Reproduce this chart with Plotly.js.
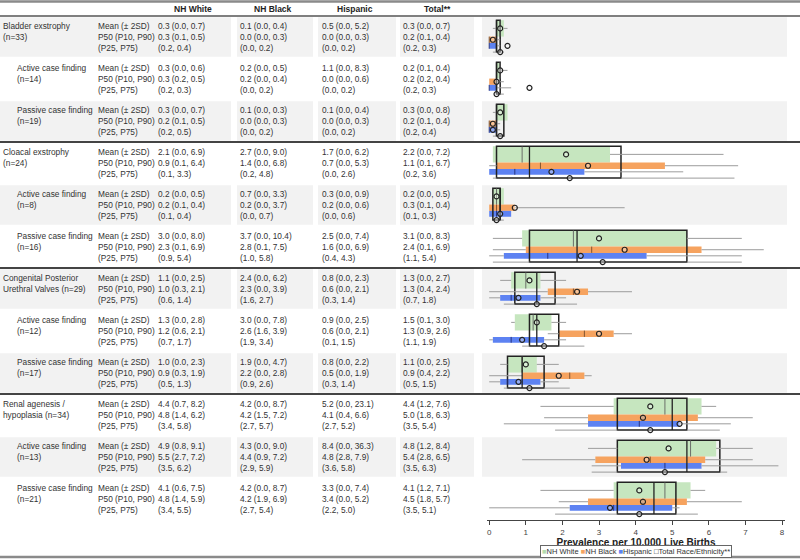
<!DOCTYPE html>
<html><head><meta charset="utf-8">
<script src="https://cdn.plot.ly/plotly-3.0.1.min.js"></script>
<style>html,body{margin:0;padding:0;background:#fff}#chart{width:800px;height:560px}</style>
</head><body><div id="chart"></div>
<script>
// ---------- DATA ----------
const rowTitle = ['Bladder exstrophy','Active case finding','Passive case finding','Cloacal exstrophy','Active case finding','Passive case finding','Congenital Posterior','Active case finding','Passive case finding','Renal agenesis /','Active case finding','Passive case finding'];
const rowSub = ['(n=33)','(n=14)','(n=19)','(n=24)','(n=8)','(n=16)','Urethral Valves (n=29)','(n=12)','(n=17)','hypoplasia (n=34)','(n=13)','(n=21)'];
const rowIsSubgroup = [false,true,true,false,true,true,false,true,true,false,true,true];
const statLabels = ['Mean (± 2SD)','P50 (P10, P90)','(P25, P75)'];
const columnHeaders = ['NH White','NH Black','Hispanic','Total**'];
const legendNames = ['NH White','NH Black','Hispanic','Total Race/Ethnicity**'];
const tickValues = [0,1,2,3,4,5,6,7,8];
const axisTitle = 'Prevalence per 10,000 Live Births';

const whiteMean = [0.3,0.3,0.3,2.1,0.2,3.0,1.1,1.3,1.0,4.4,4.9,4.1];
const whiteSdLo = [0.0,0.0,0.0,0.0,0.0,0.0,0.0,0.0,0.0,0.7,0.8,0.6];
const whiteSdHi = [0.7,0.6,0.7,6.9,0.5,8.0,2.5,2.8,2.3,8.2,9.1,7.5];
const whiteP50  = [0.3,0.3,0.2,0.9,0.2,2.3,1.0,1.2,0.9,4.8,5.5,4.8];
const whiteP10  = [0.1,0.2,0.1,0.1,0.1,0.1,0.3,0.6,0.3,1.4,2.7,1.4];
const whiteP90  = [0.5,0.5,0.5,6.4,0.4,6.9,2.1,2.1,1.9,6.2,7.2,5.9];
const whiteP25  = [0.2,0.2,0.2,0.1,0.1,0.9,0.6,0.7,0.5,3.4,3.5,3.4];
const whiteP75  = [0.4,0.3,0.5,3.3,0.4,5.4,1.4,1.7,1.3,5.8,6.2,5.5];

const blackMean = [0.1,0.2,0.1,2.7,0.7,3.7,2.4,3.0,1.9,4.2,4.3,4.2];
const blackSdLo = [0.0,0.0,0.0,0.0,0.0,0.0,0.0,0.0,0.0,0.0,0.0,0.0];
const blackSdHi = [0.4,0.5,0.3,9.0,3.3,10.4,6.2,7.8,4.7,8.7,9.0,8.7];
const blackP50  = [0.0,0.2,0.0,1.4,0.2,2.8,2.3,2.6,2.2,4.2,4.4,4.2];
const blackP10  = [0.0,0.0,0.0,0.0,0.0,0.1,0.0,1.6,0.0,1.5,0.9,1.9];
const blackP90  = [0.3,0.4,0.3,6.8,3.7,7.5,3.9,3.9,2.8,7.2,7.2,6.9];
const blackP25  = [0.0,0.0,0.0,0.2,0.0,1.0,1.6,1.9,0.9,2.7,2.9,2.7];
const blackP75  = [0.2,0.2,0.2,4.8,0.7,5.8,2.7,3.4,2.6,5.7,5.9,5.4];

const hispMean = [0.5,1.1,0.1,1.7,0.3,2.5,0.8,0.9,0.8,5.2,8.4,3.3];
const hispSdLo = [0.0,0.0,0.0,0.0,0.0,0.0,0.0,0.0,0.0,0.0,0.0,0.0];
const hispSdHi = [5.2,8.3,0.4,6.2,0.9,7.4,2.3,2.5,2.2,23.1,36.3,7.4];
const hispP50  = [0.0,0.0,0.0,0.7,0.2,1.6,0.6,0.6,0.5,4.1,4.8,3.4];
const hispP10  = [0.0,0.0,0.0,0.0,0.0,0.0,0.0,0.0,0.0,0.4,2.8,0.0];
const hispP90  = [0.3,0.6,0.3,5.3,0.6,6.9,2.1,2.1,1.9,6.6,7.9,5.2];
const hispP25  = [0.0,0.0,0.0,0.0,0.0,0.4,0.3,0.1,0.3,2.7,3.6,2.2];
const hispP75  = [0.2,0.2,0.2,2.6,0.6,4.3,1.4,1.5,1.4,5.2,5.8,5.0];

const totalMean = [0.3,0.2,0.3,2.2,0.2,3.1,1.3,1.5,1.1,4.4,4.8,4.1];
const totalSdLo = [0.0,0.1,0.0,0.0,0.0,0.0,0.0,0.1,0.0,1.2,1.2,1.2];
const totalSdHi = [0.7,0.4,0.8,7.2,0.5,8.3,2.7,3.0,2.5,7.6,8.4,7.1];
const totalP50  = [0.2,0.2,0.2,1.1,0.3,2.4,1.3,1.3,0.9,5.0,5.4,4.5];
const totalP10  = [0.1,0.2,0.1,0.1,0.1,0.1,0.4,0.9,0.4,1.8,2.8,1.8];
const totalP90  = [0.4,0.4,0.4,6.7,0.4,6.9,2.4,2.6,2.2,6.3,6.5,5.7];
const totalP25  = [0.2,0.2,0.2,0.2,0.1,1.1,0.7,1.1,0.5,3.5,3.5,3.5];
const totalP75  = [0.3,0.3,0.4,3.6,0.3,5.4,1.8,1.9,1.5,5.4,6.3,5.1];

// ---------- BUILD ----------
const groups = [
  {mean:whiteMean, sdLo:whiteSdLo, sdHi:whiteSdHi, p50:whiteP50, p10:whiteP10, p90:whiteP90, p25:whiteP25, p75:whiteP75},
  {mean:blackMean, sdLo:blackSdLo, sdHi:blackSdHi, p50:blackP50, p10:blackP10, p90:blackP90, p25:blackP25, p75:blackP75},
  {mean:hispMean,  sdLo:hispSdLo,  sdHi:hispSdHi,  p50:hispP50,  p10:hispP10,  p90:hispP90,  p25:hispP25,  p75:hispP75},
  {mean:totalMean, sdLo:totalSdLo, sdHi:totalSdHi, p50:totalP50, p10:totalP10, p90:totalP90, p25:totalP25, p75:totalP75}
];
const styles = [
  {dy:-0.205, h:0.39, fill:'#c6e6bf', med:'rgba(90,90,90,0.85)', medW:1},
  {dy:0.065,  h:0.15, fill:'#f6a35f', med:'rgba(110,70,40,0.85)', medW:1},
  {dy:0.21,   h:0.14, fill:'#5d82f2', med:'rgba(30,40,110,0.85)', medW:1},
  {dy:-0.02,  h:0.76, fill:'rgba(0,0,0,0)', line:'#222', med:'#222', medW:1.3, wDy:0.36}
];
const TXT = "'Liberation Sans', Arial, sans-serif";
const rows = rowTitle.map((_, i) => i);
const f = v => v.toFixed(1);

const traces = [];
// whiskers (P10-P25 and P75-P90)
groups.forEach((g, k) => {
  const s = styles[k]; const dy = s.wDy !== undefined ? s.wDy : s.dy;
  const x = [], y = [];
  rows.forEach(i => {
    x.push(g.p10[i], g.p25[i], null, g.p75[i], g.p90[i], null);
    y.push(i+dy, i+dy, null, i+dy, i+dy, null);
  });
  traces.push({type:'scatter', mode:'lines', x, y, line:{color:'#9c9c9c', width:1}, hoverinfo:'skip', showlegend:false});
});
// IQR bars
groups.forEach((g, k) => {
  const s = styles[k];
  traces.push({type:'bar', orientation:'h', name:legendNames[k],
    y: rows.map(i => i + s.dy), base: g.p25, x: rows.map(i => g.p75[i] - g.p25[i]),
    width: s.h,
    marker:{color:s.fill, line:{color:s.line || s.fill, width:s.line ? 1.5 : 0}},
    hoverinfo:'skip', showlegend:false});
});
// medians
groups.forEach((g, k) => {
  const s = styles[k]; const x = [], y = [];
  rows.forEach(i => { x.push(g.p50[i], g.p50[i], null); y.push(i+s.dy-s.h/2, i+s.dy+s.h/2, null); });
  traces.push({type:'scatter', mode:'lines', x, y, line:{color:s.med, width:s.medW}, hoverinfo:'skip', showlegend:false});
});
// means
groups.forEach((g, k) => {
  const s = styles[k]; const dy = s.wDy !== undefined ? s.wDy : s.dy;
  traces.push({type:'scatter', mode:'markers', x:g.mean, y:rows.map(i => i+dy),
    marker:{symbol:'circle', size:5, color:'rgba(255,255,255,0.35)', line:{color:'#222', width:1.2}},
    hoverinfo:'skip', showlegend:false});
});

// shapes
const W = 800;
const shapes = [];
const cellBlocks = [[0,231],[237,313],[318,396],[400,474],[482,787]];
rows.forEach(i => {
  if (i % 2 === 0) {
    cellBlocks.forEach(b => shapes.push({type:'rect', layer:'below', xref:'paper', yref:'y',
      x0:b[0]/W, x1:b[1]/W, y0:i-0.47, y1:i+0.47, fillcolor:'#f2f2f2', line:{width:0}}));
  }
});
[2.5, 5.5, 8.5].forEach(yv => shapes.push({type:'line', xref:'paper', yref:'y', x0:0, x1:1, y0:yv, y1:yv, line:{color:'#444', width:2}}));
shapes.push({type:'line', xref:'paper', yref:'paper', x0:0, x1:1, y0:1.0, y1:1.0, line:{color:'#555', width:1.5}});
shapes.push({type:'line', xref:'paper', yref:'paper', x0:0, x1:1, y0:(520-1.5)/504, y1:(520-1.5)/504, line:{color:'#8a8a8a', width:2.5}});
shapes.push({type:'line', xref:'paper', yref:'paper', x0:0, x1:1, y0:(520-557)/504, y1:(520-557)/504, line:{color:'#8a8a8a', width:2.5}});

// annotations (table text)
const ann = [];
const tf = {family:TXT, size:8.3, color:'#333'};
const headerX = [193, 273, 355, 437];
columnHeaders.forEach((h, k) => ann.push({xref:'paper', yref:'paper', x:headerX[k]/W, y:(520-9)/504,
  text:'<b>'+h+'</b>', showarrow:false, xanchor:'center', yanchor:'middle', font:{family:TXT, size:8.5, color:'#222'}}));
const valX = [156, 238, 320, 401];
rows.forEach(i => {
  ann.push({xref:'paper', yref:'y', x:(rowIsSubgroup[i] ? 15 : 1)/W, y:i, yshift:5.4,
    text: rowTitle[i] + '<br>' + rowSub[i], showarrow:false, xanchor:'left', yanchor:'middle', align:'left', font:tf});
  ann.push({xref:'paper', yref:'y', x:96/W, y:i, text: statLabels.join('<br>'),
    showarrow:false, xanchor:'left', yanchor:'middle', align:'left', font:tf});
  groups.forEach((g, k) => {
    const t = f(g.mean[i]) + ' (' + f(g.sdLo[i]) + ', ' + f(g.sdHi[i]) + ')<br>' +
              f(g.p50[i]) + ' (' + f(g.p10[i]) + ', ' + f(g.p90[i]) + ')<br>' +
              '(' + f(g.p25[i]) + ', ' + f(g.p75[i]) + ')';
    ann.push({xref:'paper', yref:'y', x:valX[k]/W, y:i, text:t, showarrow:false,
      xanchor:'left', yanchor:'middle', align:'left', font:tf});
  });
});
// legend
const swatch = ['#b5dcae','#f6a35f','#5d82f2','#222'];
const glyph = ['■','■','■','□'];
const legendText = legendNames.map((n, k) => "<span style='color:" + swatch[k] + "'>" + glyph[k] + "</span>" + n).join(' ');
ann.push({xref:'paper', yref:'paper', x:636/W, y:(520-551)/504, text:legendText, showarrow:false,
  xanchor:'center', yanchor:'middle', font:{family:TXT, size:7.5, color:'#333'},
  bordercolor:'#666', borderwidth:1, borderpad:1, bgcolor:'#fff'});

const layout = {
  width:800, height:560,
  margin:{l:0, r:0, t:16, b:40, pad:0},
  paper_bgcolor:'#fff', plot_bgcolor:'rgba(0,0,0,0)',
  showlegend:false, barmode:'overlay',
  xaxis:{domain:[487/W, 785/W], range:[-0.06, 8.08], tickvals:tickValues, ticks:'outside', ticklen:4,
    tickwidth:1, tickcolor:'#444', showline:true, linecolor:'#444', linewidth:1, showgrid:false, zeroline:false,
    tickfont:{family:TXT, size:8, color:'#444'},
    title:{text:'<b>' + axisTitle + '</b>', font:{family:TXT, size:10, color:'#222'}, standoff:3}, fixedrange:true},
  yaxis:{range:[11.5, -0.5], visible:false, fixedrange:true},
  shapes, annotations:ann
};
Plotly.newPlot('chart', traces, layout, {displayModeBar:false, staticPlot:true});
</script></body></html>
